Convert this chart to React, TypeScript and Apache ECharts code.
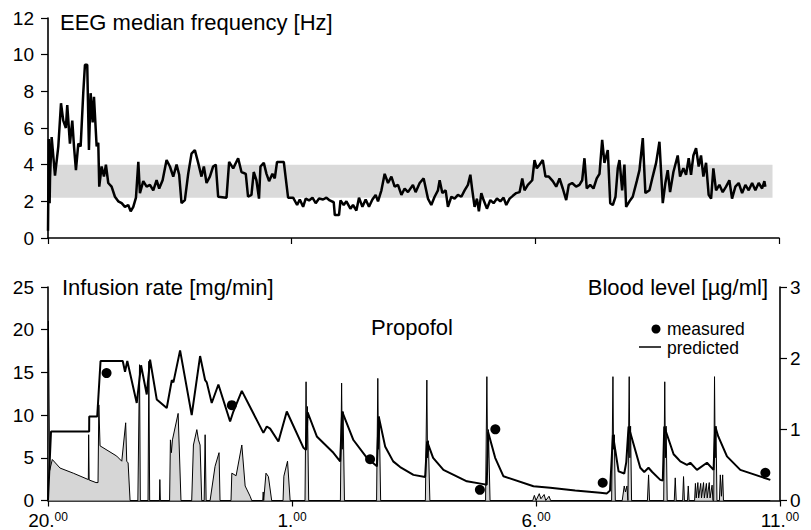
import React, { useEffect, useRef } from "react";
import * as echarts from "echarts";

// time axis: minutes after 20:00
const xTickValues = [0, 300, 600, 900];
const xTickHours = ["20", "1", "6", "11"];

// EEG median frequency [Hz] : [minutes, Hz]
const eegSeries: [number, number][] = [
  [0, 0.4], [1, 5.4], [2, 1.9], [2.5, 3.3], [4.5, 5.5], [8.6, 3.4], [12.7, 5.0], [16, 7.35], [18.8, 6.4], [22, 6.0],
  [23.7, 7.25], [27, 5.15], [29.9, 6.4], [32, 5.0], [34.4, 3.7], [37.3, 5.15], [40.2, 5.0], [43.4, 7.9], [45.5, 9.45],
  [48.3, 9.45], [50.4, 4.8], [52.5, 7.9], [55, 6.3], [56.6, 7.7], [59.9, 5.0], [61.9, 5.2], [63.1, 2.8], [66, 3.9],
  [68.9, 3.35], [71.3, 4.0], [74.2, 3.0], [78.3, 2.8], [82.4, 2.25], [86.5, 2.0], [90.7, 1.9], [94.7, 1.7], [98.8, 1.8],
  [101.8, 1.45], [105, 1.7], [108.3, 2.2], [111.2, 4.15], [113.2, 2.45], [117.3, 3.1], [121.4, 2.8], [125.5, 2.9],
  [129.6, 2.6], [133.7, 3.15], [136.9, 2.7], [141.1, 3.15], [146, 4.25], [150.1, 3.9], [154.2, 3.35], [158.3, 4.0],
  [161.5, 3.45], [164.4, 1.9], [168.5, 2.07], [172.6, 3.5], [176.7, 4.6], [180.8, 4.8], [184.9, 4.1], [189, 3.35],
  [191.9, 3.9], [195.2, 3.0], [199.3, 3.35], [203.3, 3.9], [206.6, 4.0], [209.5, 2.25], [219.8, 2.2], [223, 4.15],
  [228, 3.8], [234.1, 4.35], [238.2, 3.6], [243.5, 3.5], [246.3, 2.25], [250.5, 2.35], [253.3, 3.6], [256.6, 3.15],
  [259.8, 2.15], [261.6, 3.9], [265.7, 4.1], [269, 3.5], [272.2, 3.1], [276.3, 3.5], [279.2, 3.25], [282, 4.15],
  [290.3, 4.15], [295.6, 2.2], [301.8, 2.2], [306.7, 1.8], [310, 2.1], [314.1, 1.7], [317.3, 2.15], [321.4, 2.05],
  [325.6, 2.2], [329.6, 1.9], [333.7, 2.15], [338.7, 2.1], [342.8, 2.2], [346.9, 2.05], [351.8, 1.95], [353.1, 1.25],
  [358.3, 1.25], [360.1, 2.05], [364.1, 1.8], [367.4, 2.0], [372.3, 1.6], [375.5, 1.8], [379.7, 1.5], [382.9, 2.2],
  [387.1, 1.7], [391.1, 2.1], [395.2, 1.7], [399.4, 2.1], [403.4, 2.35], [406.3, 2.0], [410.5, 2.6], [414.5, 3.5],
  [418.6, 3.0], [422.8, 3.35], [426.8, 2.8], [430.9, 2.9], [435.1, 2.35], [439.1, 2.7], [443.2, 2.5], [449.3, 2.9],
  [452.6, 2.5], [457.6, 3.0], [462.5, 3.25], [467.8, 2.15], [471.9, 1.8], [476, 2.25], [480.1, 2.6], [482.2, 3.15],
  [485.5, 2.45], [489.6, 2.6], [492.4, 1.7], [496.6, 2.25], [500.6, 2.15], [504.7, 2.35], [508.9, 2.25], [512.9, 2.6],
  [517, 2.9], [520, 3.45], [522.4, 2.6], [525.2, 1.7], [528.1, 2.15], [530.5, 1.45], [533.5, 2.45], [536.3, 2.07],
  [540.4, 1.6], [544.6, 2.07], [548.6, 1.9], [552.7, 2.15], [556.9, 2.0], [560.9, 2.2], [564.2, 1.8], [568.3, 2.15],
  [572.3, 2.3], [576.5, 2.45], [580.6, 2.5], [583.9, 3.25], [586.7, 2.6], [590.8, 2.9], [596.2, 3.15], [599, 4.25],
  [601.8, 3.8], [605.2, 4.0], [609.2, 4.25], [612.5, 3.35], [616.6, 3.35], [621.5, 3.1], [625.7, 2.8], [629.8, 3.25],
  [633.8, 2.7], [638, 2.07], [641.2, 2.9], [645.3, 3.0], [650.2, 2.8], [654.3, 2.9], [657.7, 3.15], [660.5, 4.35],
  [663.3, 2.7], [667.5, 2.9], [671.6, 2.7], [675.6, 3.25], [679, 3.5], [682.3, 5.35], [685.1, 4.1], [689.2, 4.8],
  [692.2, 1.9], [695.4, 1.8], [698.7, 2.25], [701.5, 3.8], [703.6, 4.25], [706.9, 2.6], [709.7, 4.0], [711.8, 1.7],
  [715.9, 2.0], [719.9, 2.25], [724.9, 3.1], [728.2, 3.7], [732.3, 5.45], [735.5, 2.45], [740.5, 2.6], [744.5, 3.35],
  [748.7, 4.1], [752.8, 5.25], [756.9, 1.9], [760.1, 3.0], [763, 3.7], [765.9, 2.5], [770, 3.6], [775.3, 4.5],
  [778.2, 3.35], [782.3, 3.8], [785.6, 3.45], [788.8, 4.35], [791.7, 3.45], [794.6, 4.5], [797.9, 4.9], [801.1, 3.9],
  [804, 4.5], [806.9, 3.35], [810.2, 4.1], [813.4, 2.35], [816.4, 2.15], [819.2, 3.8], [822.5, 2.6], [826.6, 2.9],
  [830.7, 2.5], [834.8, 2.8], [838.9, 3.15], [842.2, 2.15], [846.3, 2.8], [850.4, 3.0], [854.6, 2.45], [858.6, 2.9],
  [862.7, 2.6], [866.9, 3.0], [870.9, 2.6], [875, 3.0], [879.2, 2.7], [882, 3.1], [883.2, 2.8],
];

// normal range band of EEG median frequency
const bandLow = 2.2;
const bandHigh = 4.0;
const bandStart = 1;
const bandEnd = 892;

// infusion rate [mg/min] : [minutes, mg/min]
const infusionRate: [number, number][] = [
  [0, 0], [0.5, 21], [2, 3.5], [5.3, 4.8], [14.8, 3.8], [31.1, 3.2], [49.6, 2.45], [50, 7.7], [50.6, 2.4], [59, 2.1],
  [61.5, 2.1], [62.5, 11.2], [64, 6.4], [84.5, 5.2], [90.7, 4.6], [95.5, 9.1], [96.8, 4.6], [98.5, 4.4], [100.9, 0],
  [110.5, 0], [112.5, 15.9], [113.5, 0], [123, 0], [124, 16.3], [125, 0], [137, 0], [137.5, 2.45], [138.2, 0],
  [149.5, 0], [150.5, 7.1], [151.7, 5.6], [153, 7.1], [160, 10.2], [163.5, 0], [176.7, 0], [178.8, 6.5], [183, 8.3],
  [185, 7.1], [187, 6.5], [189, 0], [192, 0], [193.2, 7.7], [194.4, 0], [199.3, 0], [205.4, 4.0], [210.3, 5.6],
  [211.5, 0], [225, 0], [226, 3.2], [231.3, 2.9], [238.3, 6.5], [242.4, 1.7], [248.5, 0.5], [250.5, 0], [264, 0],
  [264.6, 1.0], [265.2, 0], [266, 0], [268, 3.2], [271, 2.8], [275, 0], [289, 0], [290, 2.85], [294.5, 4.6],
  [297.7, 0], [316, 0], [317.3, 13.9], [318, 6], [319, 11], [320.5, 0], [359.5, 0], [361, 13.75], [361.8, 6],
  [362.8, 10.4], [364.5, 0], [404, 0], [405.5, 14.3], [406.3, 6], [407.3, 9.8], [409, 0], [464, 0], [465.8, 14.1],
  [466.6, 5], [467.6, 7], [469.5, 0], [538, 0], [539.6, 14.5], [540.5, 5], [541.5, 8.3], [543.5, 0], [596, 0],
  [598, 0.6], [600, 0], [604, 0.8], [606, 0.2], [610, 0.7], [612, 0], [616, 0.5], [618, 0], [693, 0], [694.6, 14.5],
  [695.3, 6], [696.3, 7.7], [697.5, 0], [706, 0], [708.5, 1.7], [710, 1.0], [711.8, 1.7], [713, 0], [713.5, 0],
  [714.6, 14.5], [715.4, 5], [716.3, 8.7], [717.5, 0], [737, 0], [738.4, 3.0], [739.6, 0], [757, 0], [758.3, 13.9],
  [759.1, 5], [760, 8.7], [761.3, 0], [770, 0], [771.2, 2.65], [772.4, 0], [780.3, 0], [781.4, 2.8], [782.5, 0],
  [786.3, 0], [787.2, 1.7], [788.2, 0], [795, 0], [796, 2.0], [797, 0.3], [799, 2.1], [800, 0.3], [802.5, 2.0],
  [803.5, 0.3], [806, 2.1], [807, 0.3], [809.5, 2.0], [810.5, 0.3], [813, 2.1], [814, 0.3], [816.5, 1.8], [817.5, 0],
  [818.5, 0], [819.5, 14.5], [820.3, 5], [821.3, 8.7], [822.5, 0], [825.5, 0], [826.6, 3.0], [828, 0.5],
  [829.5, 3.0], [830.5, 0], [888, 0],
];

// predicted blood level [µg/ml] : [minutes, µg/ml]
const predictedLevel: [number, number][] = [
  [0, 0], [3.7, 0.97], [50.6, 0.97], [50.7, 1.18], [60.5, 1.18], [64.6, 1.96], [91.9, 1.96], [94.7, 1.81],
  [97.5, 1.96], [109.1, 1.37], [114.4, 1.9], [121.4, 1.49], [125.5, 1.98], [133.7, 1.42], [146, 1.3], [152.2, 1.69],
  [154.2, 1.66], [162.4, 2.11], [176.7, 1.2], [187, 2.03], [193.2, 1.69], [195.2, 1.66], [201.3, 1.37],
  [209.5, 1.63], [223.9, 1.11], [227.9, 1.25], [238.3, 1.54], [264.8, 0.95], [269, 1.04], [273.1, 1.01],
  [283.3, 0.83], [293.6, 1.25], [314.1, 0.74], [317.3, 0.71], [319.2, 1.24], [330.5, 0.9], [350.9, 0.67],
  [359.2, 0.55], [361.7, 1.25], [375.5, 0.85], [392.1, 0.6], [404.4, 0.48], [406.6, 1.18], [414.5, 0.76],
  [424.4, 0.55], [433, 0.47], [449.3, 0.36], [463.7, 0.33], [466.1, 0.83], [473.5, 0.6], [486.2, 0.43],
  [515, 0.27], [535.4, 0.23], [539.4, 0.22], [541.2, 0.96], [549.8, 0.6], [560, 0.34], [596.9, 0.2],
  [617.5, 0.18], [648.2, 0.14], [679, 0.11], [687.2, 0.1], [691, 0.14], [694.6, 0.92], [701.5, 0.41],
  [708.5, 0.38], [711, 0.54], [713.8, 1.04], [728.2, 0.46], [733.1, 0.4], [738.3, 0.46], [742.9, 0.4],
  [752.8, 0.29], [755.9, 0.28], [757.7, 1.04], [769.2, 0.65], [773.3, 0.6], [777.4, 0.55], [785.6, 0.5],
  [789.7, 0.53], [797.9, 0.43], [810.2, 0.53], [818.3, 0.43], [820.4, 1.04], [824.1, 0.9], [834.8, 0.62],
  [851.2, 0.43], [888.1, 0.29],
];

// measured blood level [µg/ml]
const measuredTime = [72, 226, 396, 531, 550, 682, 882];
const measuredLevel = [1.79, 1.34, 0.58, 0.15, 1.0, 0.25, 0.39];

const FONT = "'Liberation Sans', Arial, Helvetica, sans-serif";

export default function App() {
  const ref = useRef<HTMLDivElement>(null);
  useEffect(() => {
    if (!ref.current) return;
    const chart = echarts.init(ref.current, null, { renderer: "svg" });
    const axisLineStyle = { color: "#000", width: 1.6 };
    const yLabel = { color: "#000", fontSize: 19, fontFamily: FONT, margin: 14 };
    const xFormatter = (v: number) => {
      const i = xTickValues.indexOf(v);
      return i >= 0 ? `{a|${xTickHours[i]}.}{b|00}` : "";
    };
    chart.setOption({
      animation: false,
      backgroundColor: "#fff",
      grid: [
        { left: 48, top: 18, width: 731, height: 220 },
        { left: 48, top: 287, width: 732, height: 214 },
      ],
      xAxis: [
        {
          type: "value", gridIndex: 0, min: 0, max: 900, interval: 300,
          axisLine: { lineStyle: axisLineStyle },
          axisTick: { show: true, length: 6, lineStyle: { color: "#000", width: 1.2 } },
          axisLabel: { show: false },
          splitLine: { show: false },
        },
        {
          type: "value", gridIndex: 1, min: 0, max: 900, interval: 300,
          axisLine: { lineStyle: axisLineStyle },
          axisTick: { show: true, length: 6, lineStyle: { color: "#000", width: 1.2 } },
          axisLabel: {
            color: "#000", margin: 10, formatter: xFormatter,
            rich: {
              a: { fontSize: 19, fontFamily: FONT, color: "#000", lineHeight: 20 },
              b: { fontSize: 12, fontFamily: FONT, color: "#000", verticalAlign: "top", lineHeight: 12 },
            },
          },
          splitLine: { show: false },
        },
      ],
      yAxis: [
        {
          type: "value", gridIndex: 0, min: 0, max: 12, interval: 2,
          axisLine: { show: true, lineStyle: axisLineStyle },
          axisTick: { show: true, length: 7, lineStyle: { color: "#000", width: 1.2 } },
          axisLabel: yLabel,
          splitLine: { show: false },
        },
        {
          type: "value", gridIndex: 1, min: 0, max: 25, interval: 5,
          axisLine: { show: true, lineStyle: axisLineStyle },
          axisTick: { show: true, length: 7, lineStyle: { color: "#000", width: 1.2 } },
          axisLabel: yLabel,
          splitLine: { show: false },
        },
        {
          type: "value", gridIndex: 1, min: 0, max: 3, interval: 1, position: "right",
          axisLine: { show: true, lineStyle: axisLineStyle },
          axisTick: { show: true, length: 7, lineStyle: { color: "#000", width: 1.2 } },
          axisLabel: { color: "#000", fontSize: 19, fontFamily: FONT, margin: 10 },
          splitLine: { show: false },
        },
      ],
      series: [
        {
          name: "EEG", type: "line", xAxisIndex: 0, yAxisIndex: 0,
          data: eegSeries, showSymbol: false, symbol: "none",
          lineStyle: { color: "#000", width: 2.5 },
          z: 3,
          markArea: {
            silent: true,
            itemStyle: { color: "#dadada" },
            data: [[{ xAxis: bandStart, yAxis: bandLow }, { xAxis: bandEnd, yAxis: bandHigh }]],
          },
        },
        {
          name: "infusion", type: "line", xAxisIndex: 1, yAxisIndex: 1,
          data: infusionRate, showSymbol: false, symbol: "none",
          lineStyle: { color: "#000", width: 1 },
          areaStyle: { color: "#d6d6d6", opacity: 1 },
          z: 2,
        },
        {
          name: "predicted", type: "line", xAxisIndex: 1, yAxisIndex: 2,
          data: predictedLevel, showSymbol: false, symbol: "none",
          lineStyle: { color: "#000", width: 2 },
          z: 3,
        },
        {
          name: "measured", type: "scatter", xAxisIndex: 1, yAxisIndex: 2,
          data: measuredTime.map((t, i) => [t, measuredLevel[i]]),
          symbol: "circle", symbolSize: 10,
          itemStyle: { color: "#000", opacity: 1 },
          z: 4,
        },
      ],
      graphic: [
        { type: "text", left: 60, top: 11, style: { text: "EEG median frequency [Hz]", fontSize: 22, fontFamily: FONT, fill: "#000" } },
        { type: "text", left: 62, top: 276, style: { text: "Infusion rate [mg/min]", fontSize: 22, fontFamily: FONT, fill: "#000" } },
        { type: "text", right: 43, top: 276, style: { text: "Blood level [µg/ml]", fontSize: 22, fontFamily: FONT, fill: "#000" } },
        { type: "text", left: 371, top: 316, style: { text: "Propofol", fontSize: 22, fontFamily: FONT, fill: "#000" } },
        { type: "circle", shape: { cx: 656, cy: 329, r: 4.5 }, style: { fill: "#000" } },
        { type: "text", left: 667, top: 319.5, style: { text: "measured", fontSize: 17.5, fontFamily: FONT, fill: "#000" } },
        { type: "line", shape: { x1: 639, y1: 347, x2: 661, y2: 347 }, style: { stroke: "#000", lineWidth: 1.5 } },
        { type: "text", left: 667, top: 338.5, style: { text: "predicted", fontSize: 17.5, fontFamily: FONT, fill: "#000" } },
      ],
    });
    return () => chart.dispose();
  }, []);
  return (
    <div
      ref={ref}
      style={{ position: "fixed", left: 0, top: 0, width: 811, height: 530, background: "#fff" }}
    />
  );
}
